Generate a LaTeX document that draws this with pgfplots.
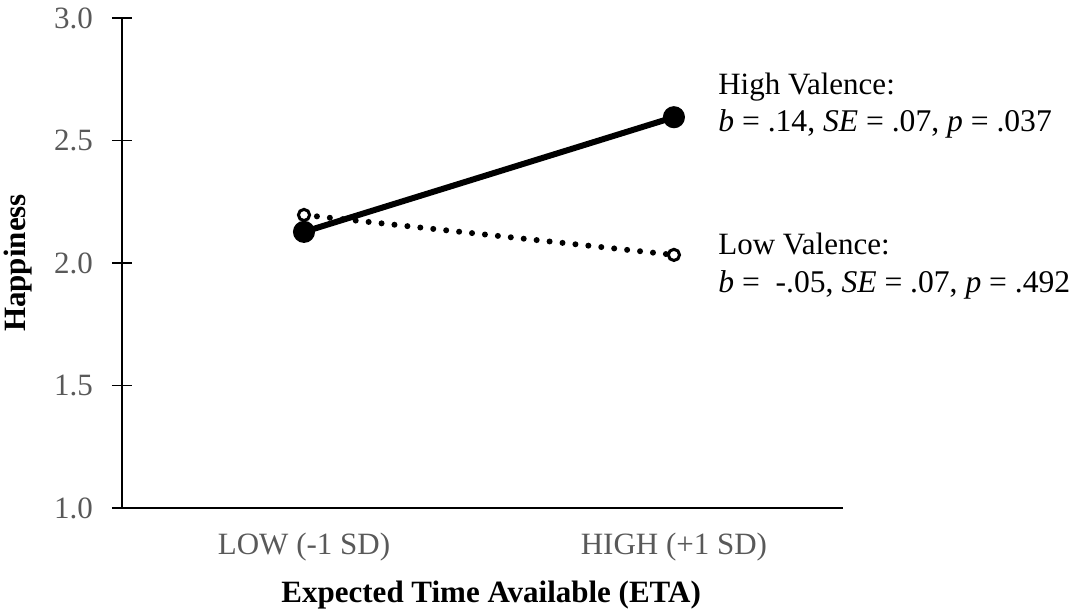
\documentclass[border=0pt]{standalone}
\usepackage{pgfplots}
\pgfplotsset{compat=1.18}
\usepackage{fontspec}
\setmainfont{Liberation Serif}
\definecolor{tickgrey}{HTML}{595959}
\begin{document}
\begin{tikzpicture}
\path[use as bounding box] (0,0) rectangle (536.5pt,306.5pt);
\begin{axis}[
  at={(61pt,52.5pt)}, anchor=south west,
  scale only axis, width=360.5pt, height=245pt,
  xmin=-0.492, xmax=1.457, ymin=1, ymax=3,
  axis x line*=bottom, axis y line*=left,
  axis line style={line width=0.8pt, -},
  xtick={0,1}, xticklabels={LOW (-1 SD), HIGH (+1 SD)},
  major x tick style={draw=none},
  extra x ticks={-0.492}, extra x tick labels={},
  extra x tick style={major tick length=8pt, tick align=outside, tick style={draw=black, line width=0.8pt}},
  ytick={1,1.5,2,2.5,3},
  yticklabel style={/pgf/number format/fixed, /pgf/number format/fixed zerofill, /pgf/number format/precision=1, xshift=-6pt},
  /pgf/number format/assume math mode=true,
  major tick length=10pt, tick align=center,
  tick style={black, line width=0.8pt},
  ticklabel style={font=\fontsize{15.5pt}{18pt}\selectfont, text=tickgrey},
  xticklabel style={yshift=-4pt},
  xlabel={\textbf{Expected Time Available (ETA)}},
  ylabel={\textbf{Happiness}},
  label style={font=\fontsize{15.5pt}{18pt}\selectfont},
  xlabel style={at={(axis description cs:0.512,-0.1776)}, anchor=center},
  ylabel style={at={(axis description cs:-0.1442,0.5)}, anchor=center, rotate=0},
  clip=false,
]
\addplot[black, line width=3pt, line cap=round, dash pattern=on 0pt off 6.5pt, mark=*, mark options={solid, fill=white, draw=black, line width=1.5pt}, mark size=2.8pt] coordinates {(0,2.196) (1,2.033)};
\addplot[black, line width=3pt, mark=*, mark options={solid, fill=black}, mark size=4pt] coordinates {(0,2.127) (1,2.595)};
\node[anchor=base west, font=\fontsize{15.5pt}{18pt}\selectfont, inner sep=0pt] at (axis cs:1.119,2.686) {High Valence:};
\node[anchor=base west, font=\fontsize{15.8pt}{18pt}\selectfont, inner sep=0pt] at (axis cs:1.119,2.535) {\textit{b} = .14, \textit{SE} = .07, \textit{p} = .037};
\node[anchor=base west, font=\fontsize{15.5pt}{18pt}\selectfont, inner sep=0pt] at (axis cs:1.119,2.033) {Low Valence:};
\node[anchor=base west, font=\fontsize{15.8pt}{18pt}\selectfont, inner sep=0pt] at (axis cs:1.119,1.878) {\textit{b} = ~-.05, \textit{SE} = .07, \textit{p} = .492};
\end{axis}
\end{tikzpicture}
\end{document}
